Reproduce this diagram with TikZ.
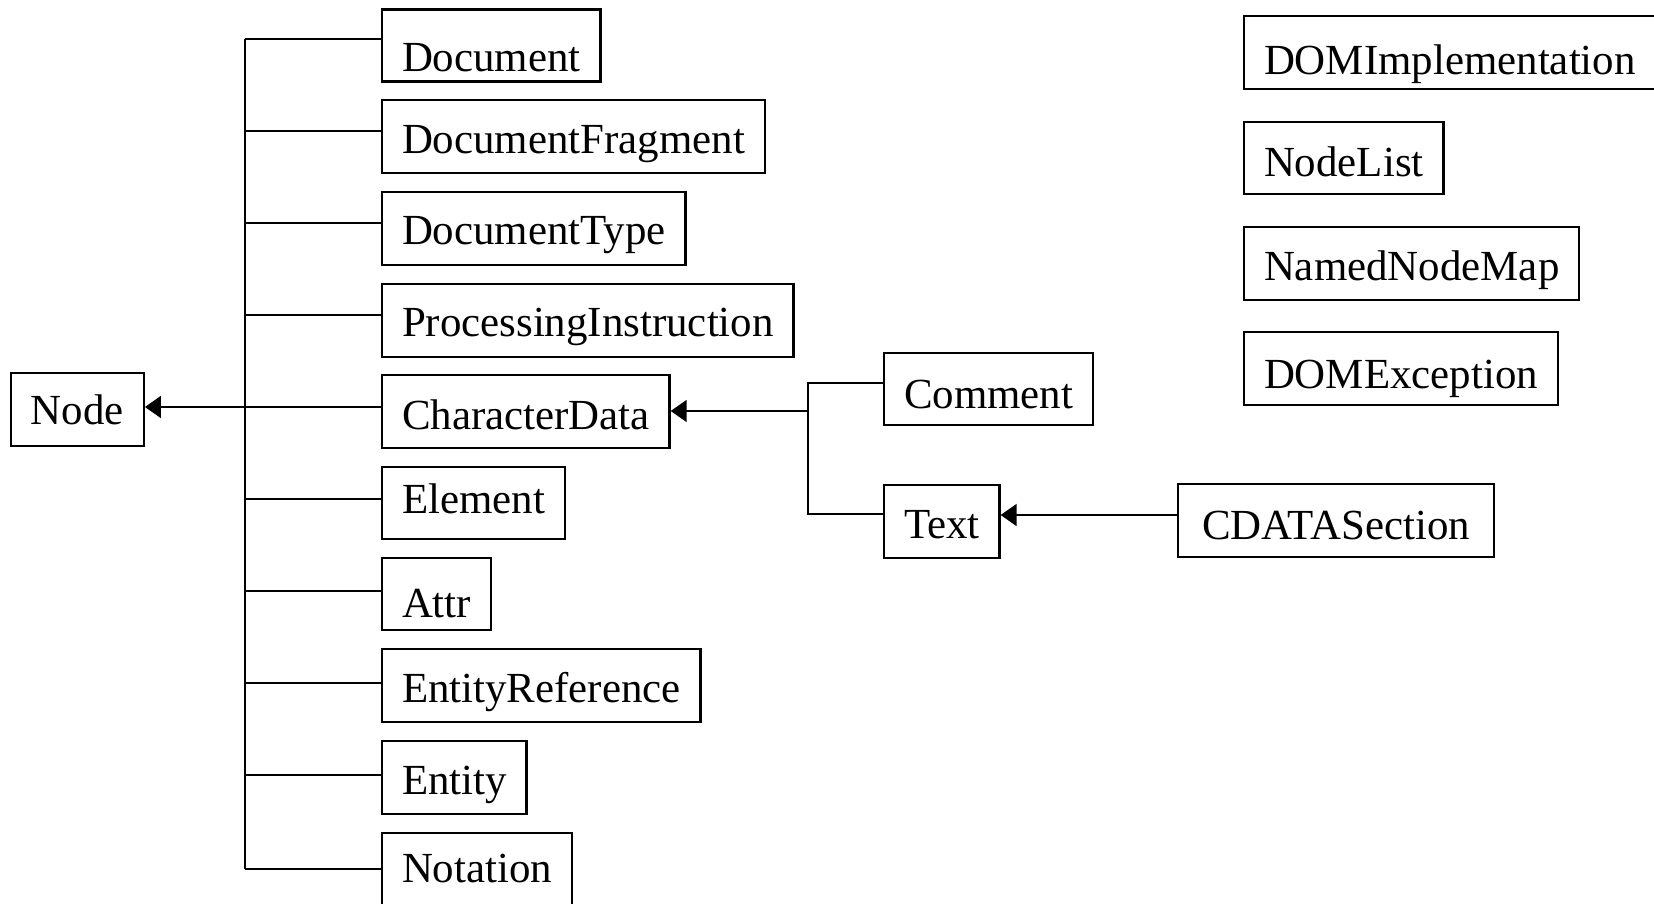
\documentclass[tikz,border=0pt]{standalone}
\usepackage{fontspec}
\setmainfont{Liberation Serif}
\usetikzlibrary{arrows.meta}
\newcommand{\boxfont}{\fontsize{21.45pt}{25pt}\selectfont}
\tikzset{
  box/.style={draw, line width=1.2pt, inner xsep=9.9pt, inner ysep=0pt,
    anchor=north west, text height=26.5pt, text depth=10pt, font=\boxfont},
  hd/.style 2 args={text height=#1, text depth=#2},
  conn/.style={line width=1.2pt},
  arr/.style={line width=0.8pt, -{Triangle[length=8pt,width=11pt]}},
}
\begin{document}
\begin{tikzpicture}[x=0.5pt, y=-0.5pt]
\useasboundingbox (0,0) rectangle (1654,904);

% left column
\node[box, hd={25.5pt}{11pt}] (n0) at (10,372) {Node};
\node[box, hd={31pt}{5pt}] (doc) at (381,8.4) {Document};
\node[box] (frag) at (381,99) {DocumentFragment};
\node[box] (dtype) at (381,190.7) {DocumentType};
\node[box] (pi) at (381,282.7) {ProcessingInstruction};
\node[box, hd={27pt}{9.5pt}] (cd) at (381,374) {CharacterData};
\node[box, hd={23pt}{13pt}] (elem) at (381,466) {Element};
\node[box, hd={30pt}{6pt}] (attr) at (381,556.7) {Attr};
\node[box] (eref) at (381,648) {EntityReference};
\node[box] (ent) at (381,740) {Entity};
\node[box, hd={25pt}{11.5pt}] (nota) at (381,831.7) {Notation};

% middle
\node[box, hd={27.5pt}{8.5pt}] (comm) at (883,352) {Comment};
\node[box] (txt) at (883,484) {Text};
\node[box, hd={27.5pt}{9pt}, minimum width=158pt] (cdata) at (1177,483) {CDATASection};

% right column
\node[box, hd={29pt}{7.5pt}] (domimpl) at (1243,15) {DOMImplementation};
\node[box, hd={27pt}{9pt}] (nlist) at (1243,121) {NodeList};
\node[box] (nnm) at (1243,226) {NamedNodeMap};
\node[box, hd={28pt}{8.5pt}] (domex) at (1243,331) {DOMException};

% trunk coordinates
\coordinate (t1) at (245,39);
\coordinate (t2) at (245,131);
\coordinate (t3) at (245,223);
\coordinate (t4) at (245,315);
\coordinate (t5) at (245,407);
\coordinate (t6) at (245,499);
\coordinate (t7) at (245,591);
\coordinate (t8) at (245,683);
\coordinate (t9) at (245,775);
\coordinate (t10) at (245,869);

\draw[conn] (t1) -- (t10);
\foreach \c/\b in {t1/doc, t2/frag, t3/dtype, t4/pi, t5/cd, t6/elem, t7/attr, t8/eref, t9/ent, t10/nota}
  \draw[conn] (\c) -- (\c -| \b.west);
\draw[arr] (t5) -- (t5 -| n0.east);

% CharacterData subtree
\coordinate (j1) at (808,383);
\coordinate (j2) at (808,514);
\coordinate (jm) at (808,411);
\draw[conn] (j1 -| comm.west) -- (j1) -- (j2) -- (j2 -| txt.west);
\draw[arr] (jm) -- (jm -| cd.east);

% CDATASection -> Text
\coordinate (c1) at (cdata.west |- 0,515);
\draw[arr] (c1) -- (c1 -| txt.east);
\end{tikzpicture}
\end{document}
